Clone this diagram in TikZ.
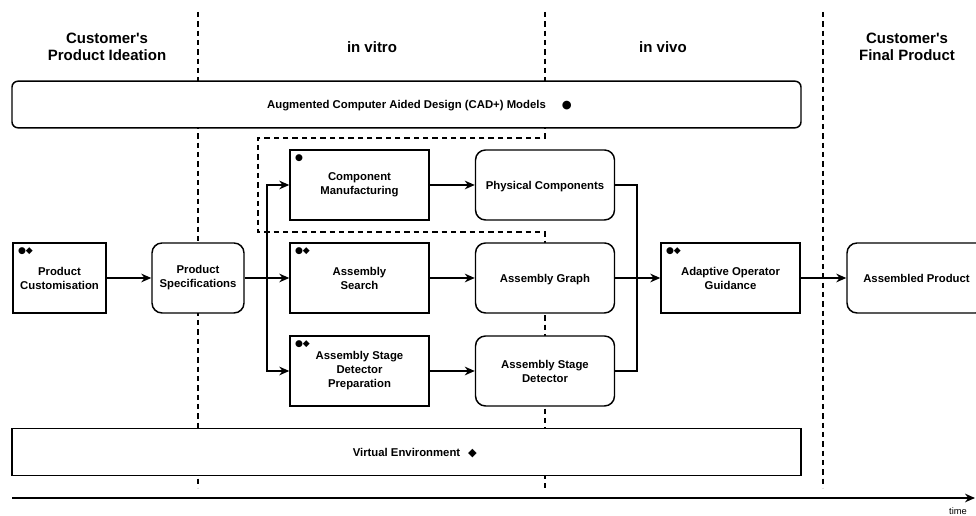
\documentclass[tikz,border=0pt]{standalone}
\usepackage{fontspec}
\setmainfont{Liberation Sans}[Ligatures=TeXOff]
\newfontfamily\symfont{DejaVu Sans}
\usetikzlibrary{arrows.meta}

\begin{document}
\begin{tikzpicture}[x=0.75pt,y=-0.75pt,
  line width=1.1pt,
  lbl/.style={font=\fontsize{8.5}{10.5}\selectfont\bfseries, align=center},
  head/.style={font=\fontsize{11.25}{12.75}\selectfont\bfseries, align=center},
  box/.style={lbl, draw, fill=white, minimum width=104.25pt, minimum height=52.5pt, inner sep=2pt},
  rbox/.style={box, rounded corners=7.5pt},
  oneline/.style={text height=6.1pt, text depth=0pt},
  band/.style={lbl, draw, fill=white, minimum width=591.75pt, minimum height=35pt},
  tag/.style={font=\fontsize{6.8}{6.8}\selectfont\symfont, inner sep=0pt, anchor=west},
  divider/.style={dash pattern=on 4pt off 3pt, line width=1pt},
  arrow/.style={-{Stealth[length=7.5pt,width=6.5pt]}},
]
\useasboundingbox (0,0) rectangle (976,516);
\clip (0,0) rectangle (976,516);

% phase dividers (drawn first, boxes cover them)
\draw[divider] (198,12) -- (198,488);
\draw[divider] (823,12) -- (823,488);
\draw[divider] (545,12) -- (545,138) -- (258,138) -- (258,232) -- (545,232) -- (545,488);

% phase headings
\node[head] (h1) at (107,46.5) {Customer's\\Product Ideation};
\node[head] (h2) at (372,47) {in vitro};
\node[head] (h3) at (663,47) {in vivo};
\node[head] (h4) at (907,46.5) {Customer's\\Final Product};

% spanning bands (label centred, symbol appended on the right)
\node[band, oneline, rounded corners=4.5pt] (cad) at (406.5,104.5)
  {Augmented Computer Aided Design (CAD+) Models\rlap{\hspace{12pt}{\symfont ●}}};
\node[band, oneline] (venv) at (406.5,452)
  {Virtual Environment\rlap{\hspace{6pt}{\symfont ◆}}};

% process nodes
\node[box, minimum width=69.75pt] (pcust) at (59.5,278) {Product\\Customisation};
\node[rbox, minimum width=69pt] (pspec) at (198,278) {Product\\Specifications};
\node[box] (cm) at (359.5,185) {Component\\Manufacturing};
\node[rbox, oneline] (pc) at (545,185) {Physical Components};
\node[box] (asearch) at (359.5,278) {Assembly\\Search};
\node[rbox, oneline] (ag) at (545,278) {Assembly Graph};
\node[box] (asdp) at (359.5,371) {Assembly Stage\\Detector\\Preparation};
\node[rbox] (asd) at (545,371) {Assembly Stage\\Detector};
\node[box] (aog) at (730.5,278) {Adaptive Operator\\Guidance};
\node[rbox, oneline] (ap) at (916.5,278) {Assembled Product};

% method markers
\node[tag] (m1) at ([shift={(3.8pt,-7pt)}]pcust.north west) {●◆};
\node[tag] (m2) at ([shift={(3.8pt,-7pt)}]cm.north west) {●};
\node[tag] (m3) at ([shift={(3.8pt,-7pt)}]asearch.north west) {●◆};
\node[tag] (m4) at ([shift={(3.8pt,-7pt)}]asdp.north west) {●◆};
\node[tag] (m5) at ([shift={(3.8pt,-7pt)}]aog.north west) {●◆};

% flow
\coordinate (split) at (267,278);
\coordinate (merge) at (637,278);
\draw[arrow] (pcust) -- (pspec);
\draw[arrow] (pspec) -- (asearch);
\draw[arrow] (split) |- (cm.west);
\draw[arrow] (split) |- (asdp.west);
\draw[arrow] (cm) -- (pc);
\draw[arrow] (asearch) -- (ag);
\draw[arrow] (asdp) -- (asd);
\draw (pc.east) -| (merge);
\draw (asd.east) -| (merge);
\draw[arrow] (ag) -- (aog);
\draw[arrow] (aog) -- (ap);

% time axis
\coordinate (t0) at (12,498);
\coordinate (t1) at (975,498);
\draw[arrow] (t0) -- (t1);
\node[font=\fontsize{7}{7}\selectfont] (tl) at (958,511) {time};
\end{tikzpicture}
\end{document}
